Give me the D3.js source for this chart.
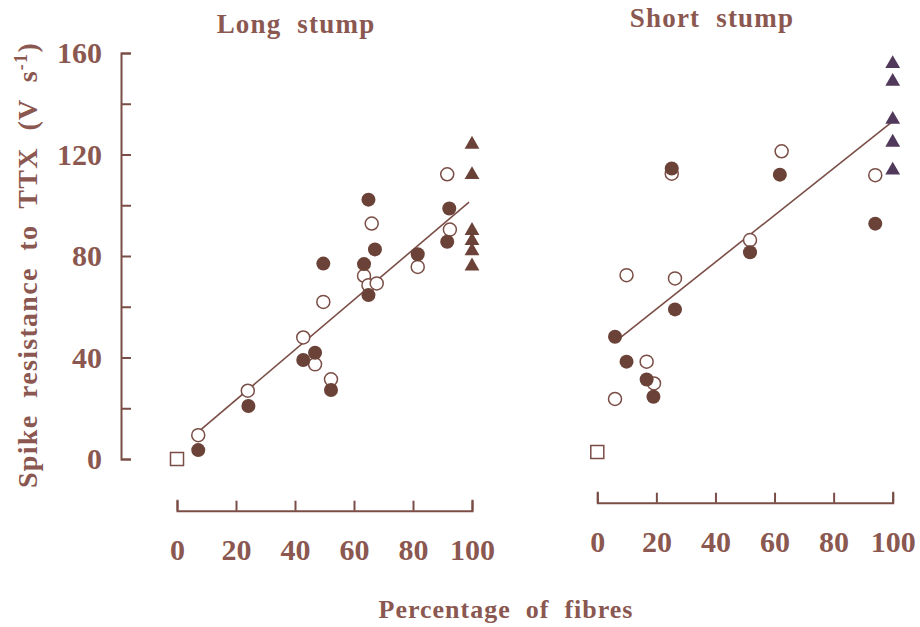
<!DOCTYPE html>
<html>
<head>
<meta charset="utf-8">
<script src="https://cdn.jsdelivr.net/npm/d3@7/dist/d3.min.js"></script>
<style>
    body { margin: 0; background: #fff; }
    svg text { font-family: "Liberation Serif", "Times New Roman", serif; font-weight: bold; fill: #8a5850; white-space: pre; }
</style>
</head>
<body>
<svg id="chart" width="920" height="627"></svg>
<script>
// ---- data (x = % of fibres, y = spike resistance, V/s) ----
const longOpen = [
    [7.2, 9.4], [24.0, 26.9], [42.8, 47.9], [46.8, 37.3], [49.6, 61.9], [52.2, 31.4],
    [66.0, 92.8], [63.4, 72.2], [64.9, 68.5], [67.7, 69.2], [81.6, 75.7], [91.6, 112.2], [92.5, 90.4]
];
const longFilled = [
    [7.2, 3.5], [24.2, 20.9], [42.8, 39.0], [46.8, 41.9], [49.6, 77.0], [52.2, 27.2],
    [64.9, 102.2], [67.1, 82.6], [63.4, 76.8], [64.9, 64.6], [81.6, 80.7], [92.3, 98.7], [91.6, 85.6]
];
const longTriangles = [[100, 124], [100, 112], [100, 90], [100, 86], [100, 82], [100, 76]];
const longSquare = [[0, 0]];
const longFit = [[7, 10.5], [99, 101.2]];

const shortOpen = [
    [9.9, 69.7], [26.3, 68.4], [6.0, 20.9], [16.7, 35.6], [19.2, 27.0], [25.2, 109.7],
    [51.7, 83.5], [62.4, 118.5], [94.1, 109.1]
];
const shortFilled = [
    [6.0, 45.4], [9.9, 35.6], [16.7, 28.6], [19.0, 21.8], [26.3, 56.2], [25.2, 111.7],
    [51.7, 78.7], [61.8, 109.3], [94.1, 90.0]
];
const shortTriangles = [[100, 153], [100, 146], [100, 131], [100, 122], [100, 111]];
const shortSquare = [[0, 0]];
const shortFit = [[6, 43.4], [100, 130.3]];

const xTicks = [0, 20, 40, 60, 80, 100];
const yTicks = [0, 20, 40, 60, 80, 100, 120, 140, 160];
const yLabels = [0, 40, 80, 120, 160];

const ink = "#7a4e46";
const fillDark = "#6b4238";

const svg = d3.select("#chart");

// panel layout (pixel positions of the two plots)
const panels = [
    { name: "Long  stump", x0: 177, x1: 472, yBase: 459, yTop: 53, axisY: 510.7, spineX: 121, showY: true,
      titleX: 296, titleY: 33, open: longOpen, filled: longFilled, tri: longTriangles, sq: longSquare,
      fit: longFit, triColor: fillDark },
    { name: "Short  stump", x0: 597.3, x1: 892.7, yBase: 452, yTop: 46, axisY: 502.7, spineX: null, showY: false,
      titleX: 712, titleY: 27, open: shortOpen, filled: shortFilled, tri: shortTriangles, sq: shortSquare,
      fit: shortFit, triColor: "#50395a" }
];

panels.forEach((p) => {
    const x = d3.scaleLinear().domain([0, 100]).range([p.x0, p.x1]);
    const y = d3.scaleLinear().domain([0, 160]).range([p.yBase, p.yTop]);

    // x axis, ticks pointing up
    const xAxis = svg.append("g")
        .attr("transform", `translate(0,${p.axisY})`)
        .call(d3.axisTop(x).tickValues(xTicks).tickSize(10).tickSizeOuter(11).tickFormat(""));
    xAxis.selectAll("path, line").attr("stroke", ink).attr("stroke-width", 2);

    const xLab = svg.append("g")
        .attr("transform", `translate(0,${p.axisY})`)
        .call(d3.axisBottom(x).tickValues(xTicks).tickSize(0).tickPadding(28));
    xLab.select(".domain").remove();
    xLab.selectAll("text").attr("font-size", 30).attr("font-family", null).attr("fill", null);

    if (p.showY) {
        const yAxis = svg.append("g")
            .attr("transform", `translate(${p.spineX},0)`)
            .call(d3.axisRight(y).tickValues(yTicks).tickSize(10).tickSizeOuter(10).tickFormat(""));
        yAxis.selectAll("path, line").attr("stroke", ink).attr("stroke-width", 2);

        const yLab = svg.append("g")
            .attr("transform", `translate(${p.spineX},0)`)
            .call(d3.axisLeft(y).tickValues(yLabels).tickSize(0).tickPadding(19));
        yLab.select(".domain").remove();
        yLab.selectAll("text").attr("font-size", 30).attr("font-family", null).attr("fill", null);
    }

    // title
    svg.append("text")
        .attr("x", p.titleX).attr("y", p.titleY)
        .attr("text-anchor", "middle")
        .attr("font-size", 27)
        .attr("letter-spacing", 1.2)
        .text(p.name);

    // regression line
    svg.append("path")
        .datum(p.fit)
        .attr("d", d3.line().x((d) => x(d[0])).y((d) => y(d[1])))
        .attr("stroke", ink).attr("stroke-width", 1.6).attr("fill", "none");

    // open circles first, filled ones on top
    svg.append("g").selectAll("circle")
        .data(p.open).enter().append("circle")
        .attr("cx", (d) => x(d[0])).attr("cy", (d) => y(d[1])).attr("r", 6.5)
        .attr("fill", "#fff").attr("stroke", ink).attr("stroke-width", 1.5);

    svg.append("g").selectAll("circle")
        .data(p.filled).enter().append("circle")
        .attr("cx", (d) => x(d[0])).attr("cy", (d) => y(d[1])).attr("r", 7)
        .attr("fill", fillDark);

    svg.append("g").selectAll("path")
        .data(p.tri).enter().append("path")
        .attr("transform", (d) => `translate(${x(d[0])},${y(d[1])})`)
        .attr("d", d3.symbol().type(d3.symbolTriangle).size(95))
        .attr("fill", p.triColor);

    svg.append("g").selectAll("rect")
        .data(p.sq).enter().append("rect")
        .attr("x", (d) => x(d[0]) - 6.5).attr("y", (d) => y(d[1]) - 6.5)
        .attr("width", 13).attr("height", 13)
        .attr("fill", "#fff").attr("stroke", ink).attr("stroke-width", 1.5);
});

// shared axis titles
svg.append("text")
    .attr("x", 506).attr("y", 618)
    .attr("text-anchor", "middle")
    .attr("font-size", 26)
    .attr("letter-spacing", 1)
    .text("Percentage  of  fibres");

const yTitle = svg.append("text")
    .attr("transform", "translate(37,488) rotate(-90)")
    .attr("font-size", 28)
    .attr("letter-spacing", 1.3);
yTitle.append("tspan").text("Spike  resistance  to  TTX  (V  s");
yTitle.append("tspan").attr("dy", -10).attr("font-size", 18).text("-1");
yTitle.append("tspan").attr("dy", 10).text(")");
</script>
</body>
</html>
